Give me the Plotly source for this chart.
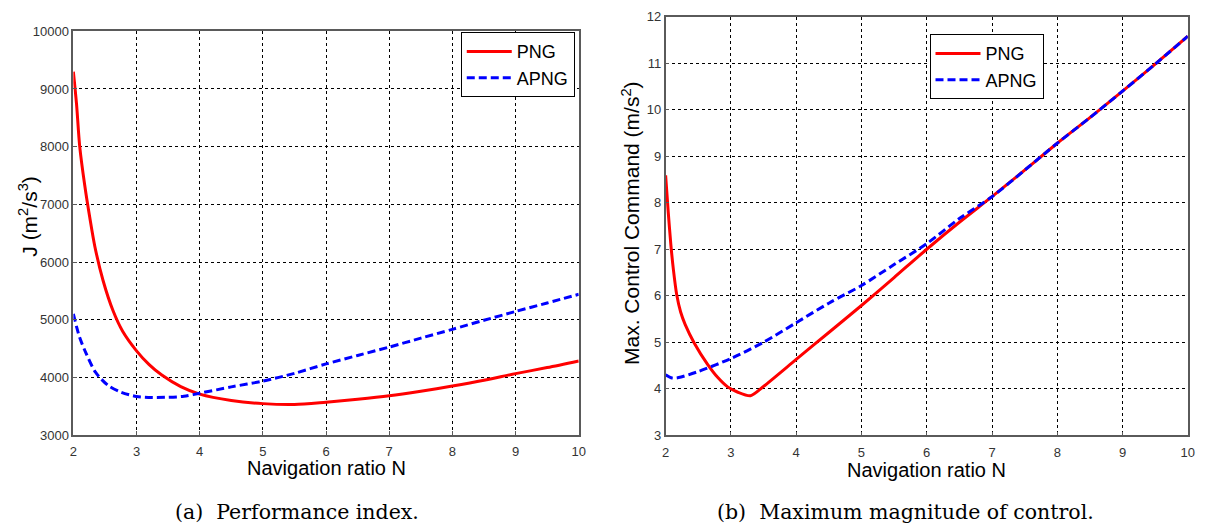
import plotly.graph_objects as go

# ---- Data ----
# (a) Performance index J
n_png_a = [2.0, 2.05, 2.1, 2.18, 2.26, 2.34, 2.47, 2.63, 2.78, 3.0, 3.2, 3.4, 3.7, 4.0,
           4.5, 5.0, 5.5, 6.0, 6.5, 7.0, 7.5, 8.0, 8.5, 9.0, 9.5, 10.0]
j_png = [9300, 8740, 8010, 7330, 6770, 6270, 5680, 5150, 4800, 4460, 4220, 4040, 3840, 3710,
         3600, 3545, 3530, 3570, 3620, 3680, 3760, 3850, 3950, 4065, 4170, 4285]

n_apng_a = [2.0, 2.05, 2.1, 2.2, 2.35, 2.55, 2.75, 3.0, 3.25, 3.5, 3.75, 4.0, 4.5, 5.0,
            5.5, 6.0, 6.5, 7.0, 7.5, 8.0, 8.5, 9.0, 9.5, 10.0]
j_apng = [5100, 4880, 4690, 4420, 4090, 3860, 3745, 3670, 3652, 3655, 3672, 3725, 3835, 3935,
          4070, 4233, 4380, 4525, 4680, 4833, 4990, 5143, 5290, 5440]

# (b) Maximum magnitude of control
n_png_b = [2.0, 2.04, 2.08, 2.12, 2.17, 2.23, 2.3, 2.44, 2.64, 2.8, 2.95, 3.1, 3.3, 3.5, 4.0,
           4.5, 5.0, 5.5, 6.0, 6.5, 7.0, 7.5, 8.0, 8.5, 9.0, 9.5, 10.0]
u_png = [8.59, 7.8, 7.1, 6.55, 6.02, 5.65, 5.38, 4.98, 4.53, 4.24, 4.04, 3.93, 3.85, 4.05, 4.63,
         5.21, 5.79, 6.39, 7.0, 7.58, 8.13, 8.7, 9.28, 9.83, 10.40, 10.98, 11.58]

n_apng_b = [2.0, 2.1, 2.2, 2.5, 3.0, 3.5, 4.0, 4.5, 5.0, 5.5, 6.0, 6.5, 7.0, 7.5, 8.0, 8.5,
            9.0, 9.5, 10.0]
u_apng = [4.30, 4.23, 4.24, 4.37, 4.65, 5.0, 5.42, 5.84, 6.22, 6.67, 7.12, 7.66, 8.13, 8.7,
          9.28, 9.83, 10.40, 10.98, 11.58]

x_ticks = [2, 3, 4, 5, 6, 7, 8, 9, 10]
y_ticks_a = [3000, 4000, 5000, 6000, 7000, 8000, 9000, 10000]
y_ticks_b = [3, 4, 5, 6, 7, 8, 9, 10, 11, 12]

RED = "#ff0000"
BLUE = "#0000ff"
SANS = "Liberation Sans, Arial, sans-serif"
SERIF = "DejaVu Serif, serif"

W, H = 1209, 531

fig = go.Figure()
fig.add_trace(go.Scatter(x=n_png_a, y=j_png, mode="lines", name="PNG",
                         line=dict(color=RED, width=3, shape="spline", smoothing=0.8),
                         xaxis="x", yaxis="y", legend="legend"))
fig.add_trace(go.Scatter(x=n_apng_a, y=j_apng, mode="lines", name="APNG",
                         line=dict(color=BLUE, width=3, dash="8px,4px", shape="spline",
                                   smoothing=0.8),
                         xaxis="x", yaxis="y", legend="legend"))
fig.add_trace(go.Scatter(x=n_png_b, y=u_png, mode="lines", name="PNG",
                         line=dict(color=RED, width=3, shape="spline", smoothing=0.7),
                         xaxis="x2", yaxis="y2", legend="legend2"))
fig.add_trace(go.Scatter(x=n_apng_b, y=u_apng, mode="lines", name="APNG",
                         line=dict(color=BLUE, width=3, dash="8px,4px", shape="spline",
                                   smoothing=0.8),
                         xaxis="x2", yaxis="y2", legend="legend2"))

ax_common = dict(showline=True, mirror=True, linecolor="#5a5a5a", linewidth=1.5,
                 showgrid=True, gridcolor="#000000", gridwidth=1, griddash="3px,3px",
                 zeroline=False, ticks="inside", ticklen=4, tickcolor="#5a5a5a",
                 tickfont=dict(family=SANS, size=13, color="#333333"))

def px_x(p):
    return p / W

def px_y(p):
    return 1 - p / H

legend_common = dict(bgcolor="white", bordercolor="#000000", borderwidth=1,
                     font=dict(family=SANS, size=18, color="#000000"), tracegroupgap=0,
                     itemwidth=45)

fig.update_layout(
    width=W, height=H, margin=dict(l=0, r=0, t=0, b=0),
    paper_bgcolor="white", plot_bgcolor="white",
    xaxis=dict(domain=[px_x(70), px_x(580)], range=[2, 10], tickvals=x_ticks, anchor="y",
               ticklabelstandoff=4, **ax_common),
    yaxis=dict(domain=[px_y(440.5), px_y(25)], range=[3000, 10000], tickvals=y_ticks_a,
               ticktext=[str(v) for v in y_ticks_a], anchor="x", **ax_common),
    xaxis2=dict(domain=[px_x(667.7), px_x(1194.7)], range=[2, 10], tickvals=x_ticks,
                anchor="y2", ticklabelstandoff=4, **ax_common),
    yaxis2=dict(domain=[px_y(440.7), px_y(10)], range=[3, 12], tickvals=y_ticks_b,
                ticktext=[str(v) for v in y_ticks_b], anchor="x2", **ax_common),
    legend=dict(x=px_x(576), y=px_y(26), xanchor="right", yanchor="top", **legend_common),
    legend2=dict(x=px_x(934), y=px_y(28), xanchor="left", yanchor="top", **legend_common),
    showlegend=True,
)

annos = [
    dict(text="Navigation ratio N", x=px_x(325), y=px_y(474), size=20, family=SANS, angle=0),
    dict(text="Navigation ratio N", x=px_x(931), y=px_y(476), size=20, family=SANS, angle=0),
    dict(text="J (m<sup>2</sup>/s<sup>3</sup>)", x=px_x(24), y=px_y(215), size=21, family=SANS,
         angle=-90),
    dict(text="Max. Control Command (m/s<sup>2</sup>)", x=px_x(632), y=px_y(222), size=21,
         family=SANS, angle=-90),
    dict(text="(a)  Performance index.", x=px_x(296), y=px_y(520), size=20.5, family=SERIF,
         angle=0),
    dict(text="(b)  Maximum magnitude of control.", x=px_x(910), y=px_y(520), size=20.5,
         family=SERIF, angle=0),
]
for a in annos:
    fig.add_annotation(text=a["text"], x=a["x"], y=a["y"], xref="paper", yref="paper",
                       showarrow=False, textangle=a["angle"], xanchor="center", yanchor="middle",
                       font=dict(family=a["family"], size=a["size"], color="#000000"))

fig.write_html("out.html")
